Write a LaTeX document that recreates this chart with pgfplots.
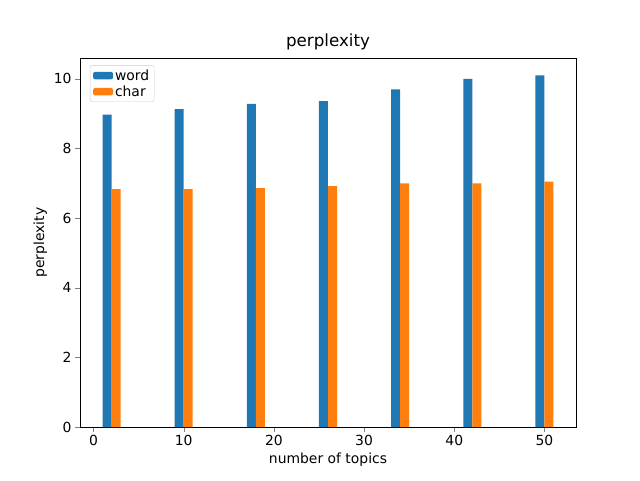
\documentclass[border=0pt]{standalone}
\usepackage{pgfplots}
\pgfplotsset{compat=1.18}
\usepackage{fontspec}
\setmainfont{DejaVu Sans}
\definecolor{mblue}{HTML}{1F77B4}
\definecolor{morange}{HTML}{FF7F0E}
\begin{document}
\begin{tikzpicture}
\path[use as bounding box] (-80pt,-53pt) rectangle (560pt,427pt);
\begin{axis}[
  at={(0,0)}, anchor=south west,
  width=496pt, height=369pt, scale only axis,
  xmin=-1.5, xmax=53.5, ymin=0, ymax=10.6,
  xtick={0,10,20,30,40,50}, ytick={0,2,4,6,8,10},
  tick align=outside, tick pos=left,
  major tick length=5pt,
  /pgf/number format/assume math mode=true,
  ticklabel style={font=\fontsize{13.9}{16}\selectfont},
  label style={font=\fontsize{13.9}{16}\selectfont},
  xlabel={number of topics}, ylabel={perplexity},
  title={perplexity}, title style={font=\fontsize{16.7}{19}\selectfont, yshift=-2pt},
  legend style={at={(0.02,0.98)}, anchor=north west, font=\fontsize{13.9}{16}\selectfont, draw=black!20, rounded corners=2pt},
  legend cell align=left,
  legend image code/.code={\fill[#1] (0cm,-0.13cm) rectangle (0.7cm,0.13cm);},
]
\addplot[ybar, bar width=9pt, fill=mblue, draw=none] coordinates {(1.5,8.97) (9.5,9.13) (17.5,9.28) (25.5,9.36) (33.5,9.70) (41.5,10.0) (49.5,10.1)};
\addlegendentry{word}
\addplot[ybar, bar width=9pt, fill=morange, draw=none] coordinates {(2.5,6.83) (10.5,6.83) (18.5,6.86) (26.5,6.92) (34.5,7.0) (42.5,7.0) (50.5,7.05)};
\addlegendentry{char}
\end{axis}
\end{tikzpicture}
\end{document}
